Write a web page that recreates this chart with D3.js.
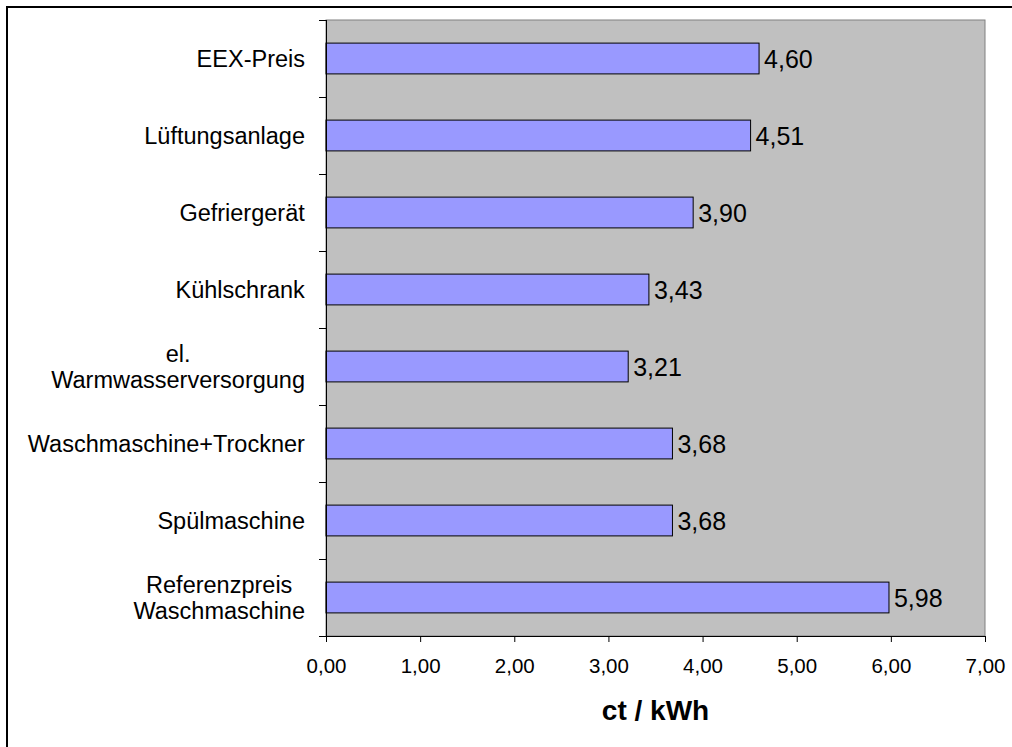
<!DOCTYPE html>
<html>
  <head>
    <meta charset="utf-8" />
    <title>ct / kWh</title>
    <script src="https://d3js.org/d3.v7.min.js"></script>
    <style>
        body{
            margin:0;
            background:#fff;
        }
        text{
            font-family: "Liberation Sans", Arial, sans-serif;
            fill:#000;
        }
    </style>
  </head>
  <body>
    <svg id="barchart"></svg>

    <script>
      // data, top to bottom
      var categories = [
        ["EEX-Preis"],
        ["Lüftungsanlage"],
        ["Gefriergerät"],
        ["Kühlschrank"],
        ["el.", "Warmwasserversorgung"],
        ["Waschmaschine+Trockner"],
        ["Spülmaschine"],
        ["Referenzpreis", "Waschmaschine"]
      ];
      var values = [4.60, 4.51, 3.90, 3.43, 3.21, 3.68, 3.68, 5.98];
      var xTicks = [0, 1, 2, 3, 4, 5, 6, 7];
      var axisTitle = "ct / kWh";

      var width = 1012;
      var height = 747;
      var plot = {left: 326, top: 20, right: 985, bottom: 636};

      var de = d3.formatLocale({decimal: ",", thousands: ".", grouping: [3], currency: ["", " €"]});
      var fmt = de.format(".2f");

      var svg = d3.select("#barchart")
        .attr("width", width)
        .attr("height", height);

      // outer frame
      svg.append("rect")
        .attr("x", 7)
        .attr("y", 7)
        .attr("width", width + 10)
        .attr("height", height + 10)
        .attr("fill", "none")
        .attr("stroke", "#000")
        .attr("stroke-width", 2);

      var idx = d3.range(values.length);

      var x = d3.scaleLinear()
        .domain([0, 7])
        .range([plot.left, plot.right]);

      var y = d3.scaleBand()
        .domain(idx)
        .range([plot.top, plot.bottom])
        .paddingInner(0.6)
        .paddingOuter(0.3);

      // plot background
      svg.append("rect")
        .attr("x", plot.left)
        .attr("y", plot.top)
        .attr("width", plot.right - plot.left)
        .attr("height", plot.bottom - plot.top)
        .attr("fill", "#c0c0c0")
        .attr("stroke", "#808080")
        .attr("stroke-width", 1);

      // bars
      svg.append("g").selectAll("rect")
        .data(values)
        .enter().append("rect")
        .attr("x", x(0))
        .attr("y", function(d, i) { return y(i); })
        .attr("width", function(d) { return x(d) - x(0); })
        .attr("height", y.bandwidth())
        .attr("fill", "#9999ff")
        .attr("stroke", "#000")
        .attr("stroke-width", 1);

      // value labels
      svg.append("g").selectAll("text")
        .data(values)
        .enter().append("text")
        .attr("x", function(d) { return x(d) + 5; })
        .attr("y", function(d, i) { return y(i) + y.bandwidth() / 2; })
        .attr("dy", "0.36em")
        .style("font-size", "25px")
        .text(function(d) { return fmt(d); });

      // x axis
      var xAxis = d3.axisBottom(x)
        .tickValues(xTicks)
        .tickSize(6)
        .tickFormat(fmt);
      var gx = svg.append("g")
        .attr("transform", "translate(0," + plot.bottom + ")")
        .call(xAxis);
      gx.select(".domain").attr("stroke", "#000").attr("d", "M" + (plot.left - 7) + ",0.5H" + plot.right);
      gx.selectAll(".tick line").attr("stroke", "#000");
      gx.selectAll(".tick text")
        .attr("y", 22)
        .attr("dy", "0.71em")
        .style("font-size", "20.5px")
        .style("font-family", "'Liberation Sans', Arial, sans-serif");

      // y axis: ticks on the category boundaries
      var bounds = d3.range(values.length + 1).map(function(i) {
        return plot.top + i * y.step();
      });
      var gy = svg.append("g");
      gy.append("line")
        .attr("x1", plot.left + 0.5).attr("x2", plot.left + 0.5)
        .attr("y1", plot.top).attr("y2", plot.bottom)
        .attr("stroke", "#000");
      gy.selectAll(".tk")
        .data(bounds)
        .enter().append("line")
        .attr("class", "tk")
        .attr("x1", plot.left - 7).attr("x2", plot.left)
        .attr("y1", function(d) { return Math.round(d) + 0.5; })
        .attr("y2", function(d) { return Math.round(d) + 0.5; })
        .attr("stroke", "#000");

      // category labels (multi-line, lines centred, block right-aligned)
      var lineH = 26;
      var labelRight = 305;
      var labels = svg.append("g").selectAll("g")
        .data(categories)
        .enter().append("g");
      labels.each(function(lines, i) {
        var g = d3.select(this);
        var cy = y(i) + y.bandwidth() / 2;
        var t = g.append("text")
          .style("font-size", "23.5px")
          .attr("text-anchor", "middle");
        lines.forEach(function(s, k) {
          t.append("tspan")
            .attr("x", 0)
            .attr("y", cy + (k - (lines.length - 1) / 2) * lineH)
            .attr("dy", "0.36em")
            .text(s);
        });
        var w = t.node().getBBox().width;
        t.selectAll("tspan").attr("x", labelRight - w / 2);
      });

      // axis title
      svg.append("text")
        .attr("x", (plot.left + plot.right) / 2)
        .attr("y", 710)
        .attr("dy", "0.36em")
        .attr("text-anchor", "middle")
        .style("font-size", "28px")
        .style("font-weight", "bold")
        .text(axisTitle);
    </script>
  </body>
</html>
